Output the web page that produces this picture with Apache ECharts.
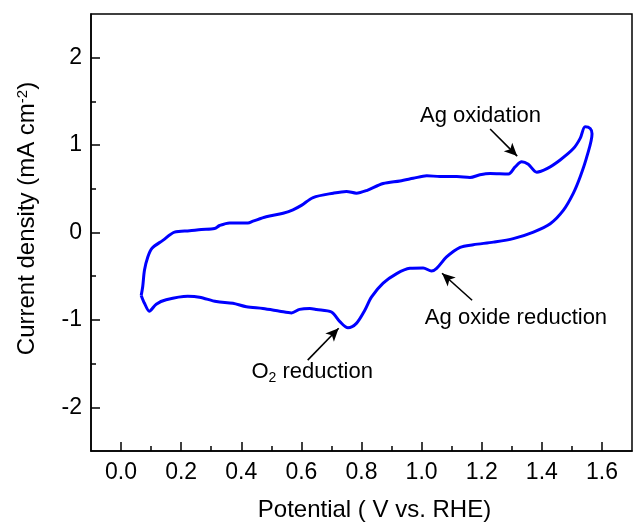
<!DOCTYPE html>
<html>
<head>
<meta charset="utf-8">
<script src="https://cdn.jsdelivr.net/npm/echarts@6/dist/echarts.min.js"></script>
<style>html,body{margin:0;padding:0;background:#fff}#c{width:633px;height:527px}</style>
</head>
<body>
<div id="c"></div>
<script>
// Potential (V vs. RHE) and current density (mA cm^-2) traced along the CV loop
const potential = [
  0.067,0.072,0.078,0.089,0.103,0.139,0.178,0.228,0.267,0.311,0.328,0.361,0.422,0.439,0.483,0.539,0.572,0.600,0.639,0.706,0.750,0.783,0.817,0.872,0.928,0.972,1.017,1.061,1.117,1.161,1.194,1.228,1.289,1.311,1.333,1.355,1.383,1.417,1.461,1.505,1.528,1.544,1.561,1.567,
  1.550,1.528,1.505,1.472,1.428,1.372,1.305,1.239,1.172,1.128,1.083,1.050,1.033,1.005,0.961,0.917,0.872,0.833,0.811,0.783,0.755,0.728,0.700,0.650,0.628,0.594,0.567,0.528,0.472,0.417,0.372,0.317,0.261,0.222,0.150,0.117,0.094,0.078,0.067
];
const current = [
  -0.72,-0.62,-0.43,-0.28,-0.18,-0.09,0.005,0.02,0.034,0.045,0.08,0.11,0.11,0.13,0.18,0.22,0.26,0.31,0.40,0.45,0.47,0.45,0.48,0.56,0.59,0.62,0.65,0.64,0.64,0.63,0.66,0.675,0.67,0.75,0.81,0.78,0.69,0.73,0.83,0.96,1.08,1.21,1.19,1.13,
  0.87,0.64,0.45,0.255,0.10,0.005,-0.07,-0.11,-0.14,-0.17,-0.28,-0.41,-0.44,-0.405,-0.41,-0.47,-0.58,-0.74,-0.89,-1.04,-1.09,-1.02,-0.91,-0.88,-0.87,-0.88,-0.92,-0.90,-0.87,-0.85,-0.81,-0.79,-0.74,-0.73,-0.77,-0.82,-0.90,-0.81,-0.72
];
const xMajorTicks = [0.0,0.2,0.4,0.6,0.8,1.0,1.2,1.4,1.6];
const xMinorTicks = [0.1,0.3,0.5,0.7,0.9,1.1,1.3,1.5];
const yMajorTicks = [-2,-1,0,1,2];
const yMinorTicks = [-1.5,-0.5,0.5,1.5];

// annotations: [label, textX, textY, arrowFromX, arrowFromY, arrowToX, arrowToY]
const annotations = [
  ['{a|Ag oxidation}', 1.196, 1.33, 1.228, 1.184, 1.318, 0.874],
  ['{a|Ag oxide reduction}', 1.314, -0.98, 1.168, -0.775, 1.068, -0.466],
  ['{a|O}{s|2}{a| reduction}', 0.636, -1.60, 0.621, -1.46, 0.724, -1.096]
];

const FONT = 'Liberation Sans, Arial, sans-serif';
const chart = echarts.init(document.getElementById('c'), null, {renderer: 'canvas'});

const lineOn = {show: true, onZero: false, lineStyle: {color: '#000', width: 1.5}};
const lineOff = {show: false, onZero: false};

chart.setOption({
  backgroundColor: '#fff',
  animation: false,
  grid: {left: 91, right: 1, top: 14, bottom: 76, show: true, borderColor: '#000', borderWidth: 1.5, containLabel: false},
  xAxis: [
    {
      type: 'value', min: -0.1, max: 1.7, position: 'bottom',
      axisLine: lineOn, splitLine: {show: false},
      axisTick: {show: true, inside: true, length: 9, lineStyle: {color: '#000', width: 1.5}, customValues: xMajorTicks},
      axisLabel: {show: true, customValues: xMajorTicks, margin: 10, color: '#000', fontSize: 23, fontFamily: FONT,
        formatter: v => v.toFixed(1)},
      name: 'Potential ( V vs. RHE)', nameLocation: 'middle', nameGap: 47,
      nameTextStyle: {color: '#000', fontSize: 24, fontFamily: FONT, padding: [0, 0, 0, 26]}
    },
    {
      type: 'value', min: -0.1, max: 1.7, position: 'bottom',
      axisLine: lineOff, splitLine: {show: false},
      axisTick: {show: true, inside: true, length: 5, lineStyle: {color: '#000', width: 1.5}, customValues: xMinorTicks},
      axisLabel: {show: false}
    }
  ],
  yAxis: [
    {
      type: 'value', min: -2.5, max: 2.5, position: 'left',
      axisLine: lineOn, splitLine: {show: false},
      axisTick: {show: true, inside: true, length: 9, lineStyle: {color: '#000', width: 1.5}, customValues: yMajorTicks},
      axisLabel: {show: true, customValues: yMajorTicks, margin: 9, color: '#000', fontSize: 23, fontFamily: FONT},
      name: '{a|Current density (mA cm}{s|-2}{a|)}', nameLocation: 'middle', nameGap: 51,
      nameTextStyle: {color: '#000', fontFamily: FONT, padding: [0, 0, 0, 28],
        rich: {a: {fontSize: 24, fontFamily: FONT, color: '#000'}, s: {fontSize: 15, fontFamily: FONT, color: '#000', verticalAlign: 'top', padding: [0,0,10,0]}}}
    },
    {
      type: 'value', min: -2.5, max: 2.5, position: 'left',
      axisLine: lineOff, splitLine: {show: false},
      axisTick: {show: true, inside: true, length: 5, lineStyle: {color: '#000', width: 1.5}, customValues: yMinorTicks},
      axisLabel: {show: false}
    }
  ],
  series: [{
    type: 'line',
    xAxisIndex: 0, yAxisIndex: 0,
    data: potential.map((x, i) => [x, current[i]]),
    showSymbol: false,
    smooth: 0.3,
    lineStyle: {color: '#0000ff', width: 3},
    markLine: {
      silent: true,
      symbol: ['none', 'arrow'],
      symbolSize: [9, 13],
      label: {show: false},
      lineStyle: {color: '#000', width: 1.6, type: 'solid'},
      data: annotations.map(a => [{coord: [a[3], a[4]]}, {coord: [a[5], a[6]]}])
    },
    markPoint: {
      silent: true,
      symbol: 'circle', symbolSize: 0,
      data: annotations.map(a => ({
        coord: [a[1], a[2]],
        label: {show: true, position: 'inside', formatter: a[0],
          rich: {a: {fontSize: 22, fontFamily: FONT, color: '#000'}, s: {fontSize: 14, fontFamily: FONT, color: '#000', verticalAlign: 'bottom', padding: [12,0,0,0]}}}
      }))
    }
  }]
});
</script>
</body>
</html>
